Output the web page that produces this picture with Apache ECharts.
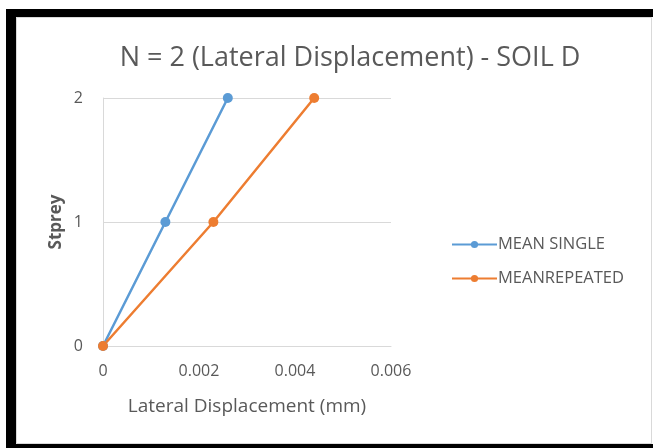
<!DOCTYPE html>
<html>
<head>
<meta charset="utf-8">
<script src="https://cdn.jsdelivr.net/npm/echarts@6/dist/echarts.min.js"></script>
<style>
  html, body { margin: 0; padding: 0; background: #ffffff; }
  #chart { width: 653px; height: 448px; }
</style>
</head>
<body>
<div id="chart"></div>
<script>
// Story index (y) against lateral displacement (x), in mm
const stories = [0, 1, 2];
const meanSingle = [0, 0.0013, 0.0026];
const meanRepeated = [0, 0.0023, 0.0044];
const seriesNames = ['MEAN SINGLE', 'MEANREPEATED'];
const xTicks = [0, 0.002, 0.004, 0.006];
const yTicks = [0, 1, 2];

const textColor = '#595959';
const gridColor = '#d9d9d9';
const font = '"Open Sans", "Noto Sans", sans-serif';

function pairs(xs, ys) {
  return xs.map((x, i) => [x, ys[i]]);
}

const chart = echarts.init(document.getElementById('chart'), null, { renderer: 'canvas' });

chart.setOption({
  animation: false,
  backgroundColor: '#ffffff',
  title: {
    text: 'N = 2 (Lateral Displacement) - SOIL D',
    left: 345,
    textAlign: 'center',
    top: 40,
    textStyle: { color: textColor, fontSize: 27, fontWeight: 'normal', fontFamily: font }
  },
  legend: {
    orient: 'vertical',
    left: 446,
    top: 231,
    itemWidth: 45,
    itemHeight: 9,
    itemGap: 17,
    textStyle: { color: textColor, fontSize: 16.5, fontFamily: font, padding: [0, 0, 0, -4] },
    data: seriesNames
  },
  grid: { left: 103, right: 262, top: 98, bottom: 102 },
  xAxis: {
    type: 'value',
    min: xTicks[0],
    max: xTicks[xTicks.length - 1],
    interval: 0.002,
    name: 'Lateral Displacement (mm)',
    nameLocation: 'middle',
    nameGap: 51,
    nameTextStyle: { color: textColor, fontSize: 19, fontFamily: font },
    axisLine: { show: true, lineStyle: { color: gridColor, width: 1 } },
    axisTick: { show: false },
    splitLine: { show: false },
    axisLabel: { color: textColor, fontSize: 16, fontFamily: font, margin: 17,
      formatter: v => (v === 0 ? '0' : v.toFixed(3)) }
  },
  yAxis: {
    type: 'value',
    min: yTicks[0],
    max: yTicks[yTicks.length - 1],
    interval: 1,
    name: 'Stprey',
    nameLocation: 'middle',
    nameGap: 38,
    nameTextStyle: { color: textColor, fontSize: 17, fontWeight: 'bold', fontFamily: font },
    axisLine: { show: true, lineStyle: { color: gridColor, width: 1 } },
    axisTick: { show: false },
    splitLine: { show: true, lineStyle: { color: gridColor, width: 1 } },
    axisLabel: { color: textColor, fontSize: 16, fontFamily: font, margin: 20 }
  },
  series: [
    {
      name: seriesNames[0],
      type: 'line',
      data: pairs(meanSingle, stories),
      symbol: 'circle',
      symbolSize: 10,
      lineStyle: { color: '#5b9bd5', width: 2.5 },
      itemStyle: { color: '#5b9bd5' }
    },
    {
      name: seriesNames[1],
      type: 'line',
      data: pairs(meanRepeated, stories),
      symbol: 'circle',
      symbolSize: 10,
      lineStyle: { color: '#ed7d31', width: 2.5 },
      itemStyle: { color: '#ed7d31' }
    }
  ],
  graphic: [
    // thin inner frame
    { type: 'rect', silent: true, z: 100,
      shape: { x: 16.5, y: 17.5, width: 635, height: 426 },
      style: { fill: null, stroke: '#d9d9d9', lineWidth: 1 } },
    // heavy outer frame (left, top, bottom)
    { type: 'rect', silent: true, z: 101,
      shape: { x: 6, y: 9, width: 10, height: 439 }, style: { fill: '#000000' } },
    { type: 'rect', silent: true, z: 101,
      shape: { x: 6, y: 9, width: 647, height: 8 }, style: { fill: '#000000' } },
    { type: 'rect', silent: true, z: 101,
      shape: { x: 6, y: 444, width: 647, height: 4 }, style: { fill: '#000000' } }
  ]
});
</script>
</body>
</html>
